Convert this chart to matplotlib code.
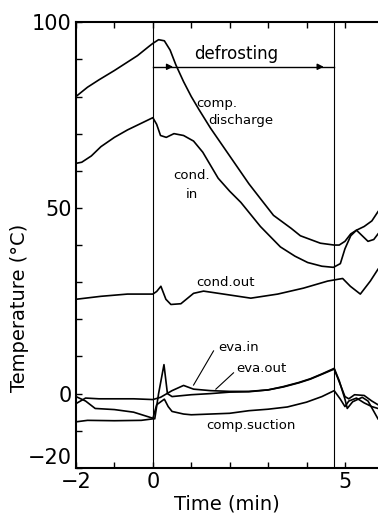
import matplotlib
matplotlib.use("Agg")
import matplotlib.pyplot as plt

# time axis (min) and temperatures (degC)
t_dis = [-2.0, -1.7, -1.4, -1.0, -0.7, -0.4, -0.1, 0.0, 0.15, 0.3, 0.45, 0.6, 0.8, 1.0,
         1.2, 1.5, 1.8, 2.2, 2.5, 2.8, 3.14, 3.6, 3.84, 4.36, 4.72, 4.85, 5.0, 5.15, 5.3,
         5.45, 5.6, 5.75, 5.86]
comp_discharge = [80, 82.5, 84.5, 87, 89, 91, 93.5, 94.3, 95.3, 95, 92.5, 88.5, 84, 80,
                  76.5, 71.5, 67, 61, 56.5, 52.5, 48, 44.5, 42.5, 40.5, 40, 40, 41, 43, 44,
                  42.5, 41, 41.5, 43]

t_cin = [-2.0, -1.85, -1.6, -1.35, -1.0, -0.66, -0.3, 0.0, 0.1, 0.2, 0.35, 0.55, 0.8,
         1.06, 1.3, 1.5, 1.7, 2.0, 2.29, 2.8, 3.32, 3.7, 4.03, 4.4, 4.7, 4.88, 5.0, 5.15,
         5.3, 5.5, 5.7, 5.86]
cond_in = [62, 62.3, 64, 66.5, 69, 71, 72.8, 74.3, 72.5, 69.5, 69, 70, 69.5,
           68, 65, 61.5, 58, 54.5, 51.5, 45, 39.5, 37, 35.3, 34.3, 34, 35, 39, 42.5,
           44, 45, 46.5, 49]

t_cout = [-2.0, -1.35, -0.66, 0.0, 0.1, 0.21, 0.34, 0.47, 0.73, 1.06, 1.32, 1.84, 2.55,
          3.25, 3.92, 4.55, 4.94, 5.14, 5.4, 5.66, 5.86]
cond_out = [25.4, 26.2, 26.8, 26.8, 27.5, 28.9, 25.4, 24, 24.2, 27, 27.6, 26.8, 25.7,
            26.8, 28.4, 30.3, 31, 28.9, 26.8, 30.3, 33.5]

t_ein = [-2.0, -1.75, -1.4, -0.5, 0.0, 0.2, 0.5, 0.8, 1.06, 1.5, 2.0, 2.5, 3.0, 3.4,
         3.8, 4.1, 4.4, 4.72, 4.88, 5.0, 5.1, 5.25, 5.5, 5.7, 5.86]
eva_in = [-2.7, -1.2, -1.4, -1.4, -1.6, -1.0, 0.8, 2.2, 1.2, 0.8, 0.6, 0.6, 1.0, 1.8,
          2.9, 3.9, 5.2, 6.6, 2.4, -0.8, -1.4, -0.3, -0.5, -2.0, -3.0]

t_eout = [-2.0, -1.75, -1.5, -1.0, -0.5, -0.1, 0.05, 0.15, 0.29, 0.38, 0.5, 1.0, 1.5,
          2.0, 2.5, 3.0, 3.4, 3.8, 4.1, 4.4, 4.72, 4.85, 5.0, 5.06, 5.2, 5.45, 5.6, 5.86]
eva_out = [-0.8, -2.0, -4.0, -4.3, -5.0, -6.3, -6.8, 0, 7.8, 0, -0.8, -0.3, 0,
           0.4, 0.5, 1.0, 1.9, 3.0, 4.0, 5.3, 6.8, 3.5, -1.5, -4.0, -2.2, -1.0, -2.0, -6.8]

t_suc = [-2.0, -1.7, -1.0, -0.3, 0.0, 0.1, 0.3, 0.4, 0.5, 0.8, 1.0, 1.5, 2.0, 2.5, 3.0,
         3.5, 4.0, 4.4, 4.72, 4.88, 5.0, 5.1, 5.3, 5.5, 5.7, 5.86]
comp_suction = [-7.6, -7.2, -7.3, -7.2, -6.8, -3.0, -1.5, -3.5, -4.8, -5.5, -5.7, -5.5,
                -5.3, -4.6, -4.2, -3.6, -2.3, -0.8, 0.8, -1.5, -3.5, -2.0, -1.2, -2.5,
                -3.5, -4.0]

defrost_start, defrost_end = 0.0, 4.72

fig = plt.figure(figsize=(3.78, 5.17), dpi=100)
ax = fig.add_axes([0.201, 0.095, 0.799, 0.862])

lw = 1.2
ax.plot(t_dis, comp_discharge, color="black", lw=lw)
ax.plot(t_cin, cond_in, color="black", lw=lw)
ax.plot(t_cout, cond_out, color="black", lw=lw)
ax.plot(t_ein, eva_in, color="black", lw=lw)
ax.plot(t_eout, eva_out, color="black", lw=lw)
ax.plot(t_suc, comp_suction, color="black", lw=lw)

# defrost period markers
ax.axvline(defrost_start, color="black", lw=0.8)
ax.axvline(defrost_end, color="black", lw=0.8)
ax.plot([defrost_start, defrost_end], [88, 88], color="black", lw=1.0)
for xa in (0.6, defrost_end - 0.2):
    ax.annotate("", xy=(xa, 88), xytext=(xa - 0.3, 88),
                arrowprops=dict(arrowstyle="-|>", color="black", lw=1.0, mutation_scale=9))
ax.text(2.16, 91.5, "defrosting", fontsize=12, ha="center", va="center")

# curve labels
fs = 9.5
ax.text(1.13, 78, "comp.", fontsize=fs, va="center")
ax.text(1.45, 73.5, "discharge", fontsize=fs, va="center")
ax.text(0.52, 58.6, "cond.", fontsize=fs, va="center")
ax.text(0.86, 53.7, "in", fontsize=fs, va="center")
ax.text(1.12, 29.8, "cond.out", fontsize=fs, va="center")
ax.text(1.71, 12.4, "eva.in", fontsize=fs, va="center")
ax.text(2.16, 6.8, "eva.out", fontsize=fs, va="center")
ax.text(1.38, -8.6, "comp.suction", fontsize=fs, va="center")
ax.plot([1.58, 1.06], [11.5, 2.3], color="black", lw=0.8)
ax.plot([2.1, 1.64], [5.6, 1.2], color="black", lw=0.8)

ax.set_xlim(-2, 5.86)
ax.set_ylim(-20, 100)
ax.set_xticks([-2, -1, 0, 1, 2, 3, 4, 5])
ax.set_xticklabels(["\u22122", "", "0", "", "", "", "", "5"])
ax.set_yticks(range(-20, 101, 10))
ax.set_yticklabels(["\u221220", "", "0", "", "", "", "", "50", "", "", "", "", "100"])
ax.tick_params(direction="in", length=4, width=1, labelsize=15, top=True, pad=3)
# lift the -20 label a little so it clears the -2 label below it
ax.get_yticklabels()[0].set_va("bottom")
for s in ("left", "bottom", "top"):
    ax.spines[s].set_linewidth(1.5)
ax.spines["right"].set_visible(False)

ax.set_xlabel("Time (min)", fontsize=14, labelpad=2)
ax.set_ylabel("Temperature (\u00b0C)", fontsize=14, labelpad=4)
ax.yaxis.set_label_coords(-0.155, 0.36)

fig.savefig("out.png", dpi=100)
